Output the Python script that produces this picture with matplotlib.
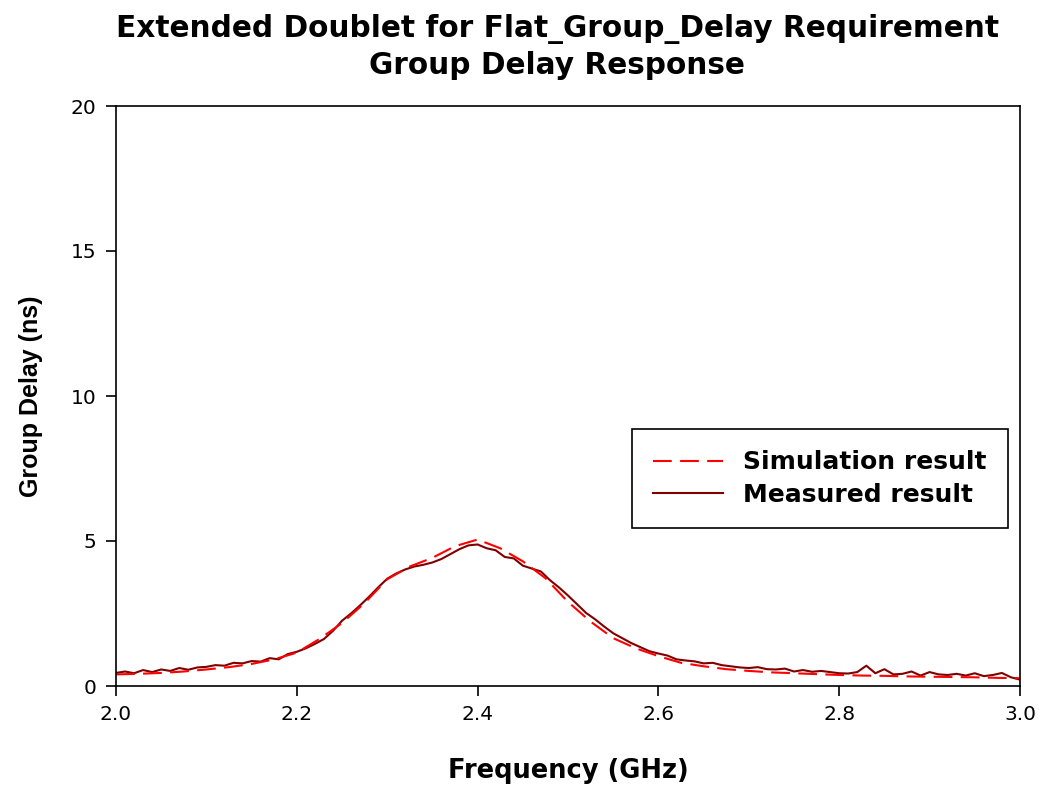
import numpy as np
import matplotlib
matplotlib.use("Agg")
import matplotlib.pyplot as plt

# simulated group delay (smooth), every 25 MHz
freq_sim = np.round(np.arange(2.0, 3.0001, 0.025), 3)
gd_sim = [0.40, 0.42, 0.45, 0.50, 0.57, 0.65, 0.76, 0.92, 1.15, 1.62,
          2.17, 2.86, 3.68, 4.12, 4.42, 4.82, 5.05, 4.75, 4.30, 3.72,
          2.90, 2.22, 1.65, 1.30, 1.03, 0.80, 0.68, 0.58, 0.52, 0.47,
          0.44, 0.41, 0.38, 0.36, 0.35, 0.33, 0.32, 0.31, 0.30, 0.28,
          0.27]

# measured group delay, every 10 MHz
freq_meas = np.round(np.arange(2.0, 3.0001, 0.01), 2)
gd_meas = [0.45, 0.50, 0.44, 0.55, 0.48, 0.57, 0.52, 0.62, 0.56, 0.64,
           0.66, 0.72, 0.70, 0.80, 0.78, 0.86, 0.84, 0.96, 0.92, 1.10,
           1.18, 1.30, 1.45, 1.62, 1.90, 2.25, 2.50, 2.78, 3.08, 3.40,
           3.70, 3.88, 4.02, 4.12, 4.18, 4.26, 4.38, 4.55, 4.72, 4.85,
           4.88, 4.75, 4.68, 4.45, 4.40, 4.15, 4.05, 3.95, 3.65, 3.40,
           3.12, 2.82, 2.52, 2.30, 2.05, 1.82, 1.65, 1.48, 1.34, 1.20,
           1.12, 1.05, 0.92, 0.88, 0.85, 0.78, 0.80, 0.72, 0.68, 0.64,
           0.62, 0.65, 0.58, 0.57, 0.60, 0.50, 0.55, 0.49, 0.52, 0.48,
           0.44, 0.43, 0.48, 0.70, 0.44, 0.58, 0.40, 0.42, 0.50, 0.36,
           0.48, 0.40, 0.38, 0.42, 0.36, 0.44, 0.34, 0.38, 0.45, 0.30,
           0.22]

title = "Extended Doublet for Flat_Group_Delay Requirement\nGroup Delay Response"

# the source picture is stretched sideways, the wider DejaVu face is closer
plt.rcParams['font.family'] = ['DejaVu Sans']

fig = plt.figure(figsize=(10.41, 7.88), dpi=100)
ax = fig.add_axes([116/1041, 1 - 686/788, (1020 - 116)/1041, (686 - 106)/788])

ax.plot(freq_meas, gd_meas, color='#800000', lw=1.5, label='Measured result')
ax.plot(freq_sim, gd_sim, color='#ff0000', lw=1.5, dashes=(9, 4),
        label='Simulation result')

ax.set_xlim(2.0, 3.0)
ax.set_ylim(0, 20)
ax.set_xticks(np.arange(2.0, 3.01, 0.2))
ax.set_xticklabels([f"{v:.1f}" for v in np.arange(2.0, 3.01, 0.2)])
ax.set_yticks([0, 5, 10, 15, 20])
ax.tick_params(direction='out', length=7, width=1.2, labelsize=14.5, pad=7,
               top=False, right=False)
for s in ax.spines.values():
    s.set_linewidth(1.2)

ax.set_xlabel("Frequency (GHz)", fontsize=18.5, fontweight='bold', labelpad=24)
ax.set_ylabel("Group Delay (ns)", fontsize=18, fontweight='bold', labelpad=20,
              family='Liberation Sans')

fig.text(557/1041, 1 - 47/788, title, ha='center', va='center',
         fontsize=21.3, fontweight='bold', linespacing=1.3)

h, l = ax.get_legend_handles_labels()
leg = ax.legend(h[::-1], l[::-1], loc='upper left', bbox_to_anchor=(0.571, 0.443),
                frameon=True, fancybox=False, edgecolor='black', framealpha=1,
                prop={'size': 18, 'weight': 'bold'}, handlelength=2.8,
                borderpad=0.85, labelspacing=0.35, handletextpad=0.8,
                borderaxespad=0)
leg.get_frame().set_linewidth(1.2)

fig.savefig("out.png", dpi=100)
